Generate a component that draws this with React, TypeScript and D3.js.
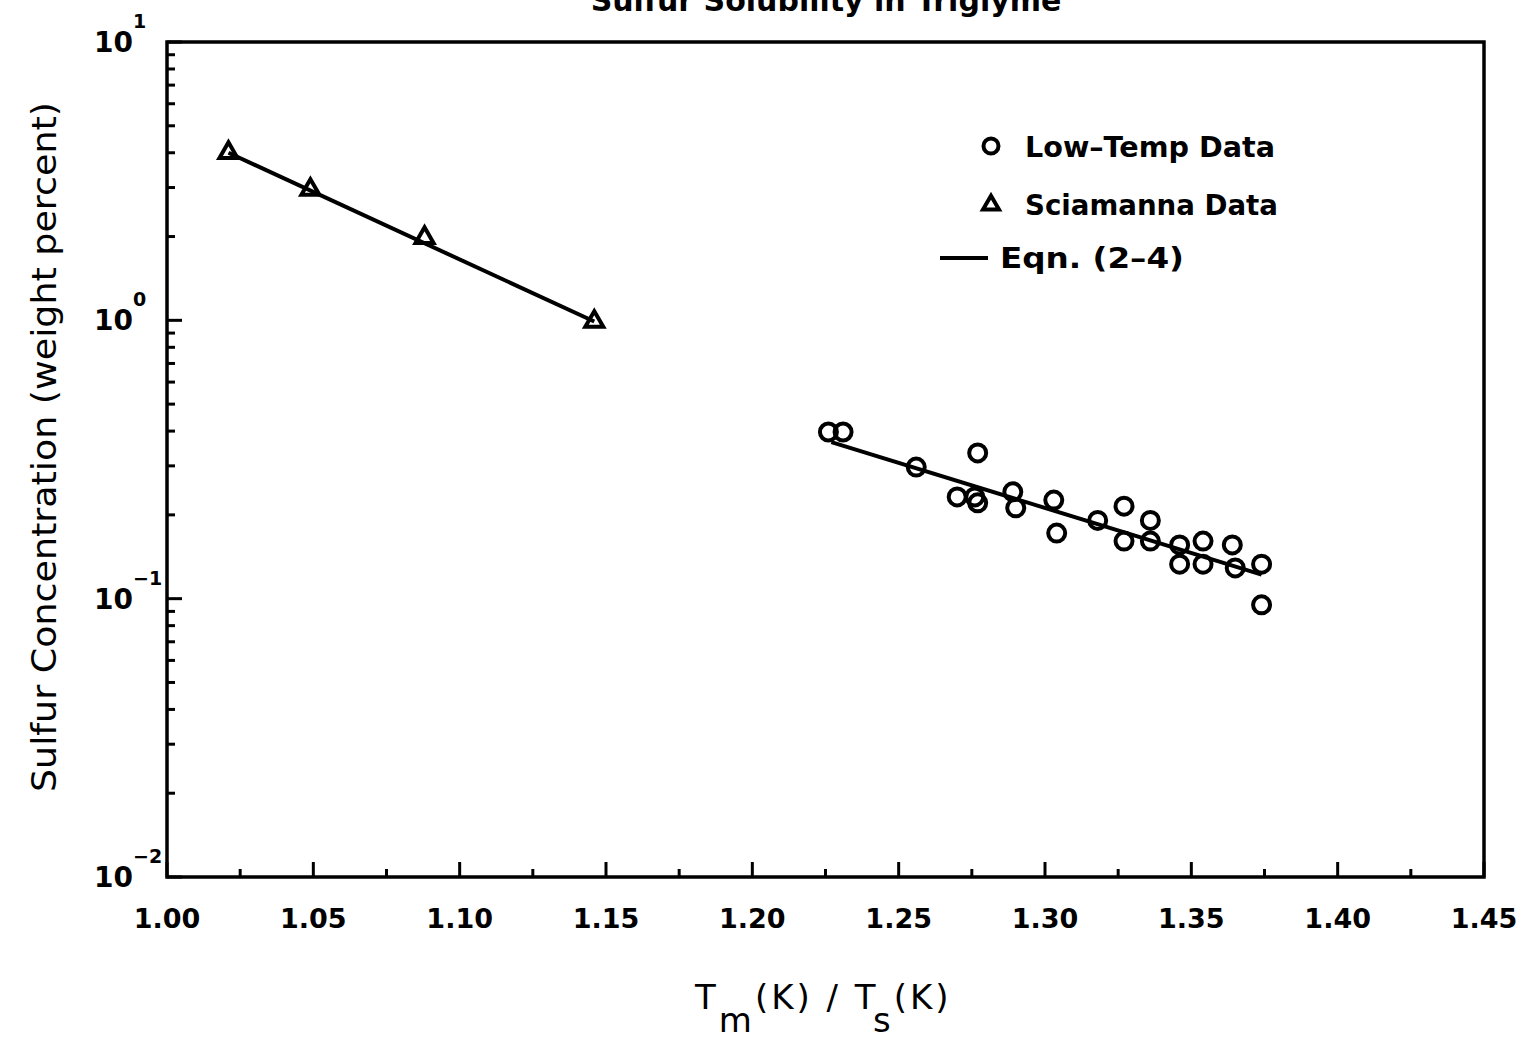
import React from "react";
import * as d3 from "d3";

const titleText = "Sulfur Solubility in Triglyme";
const xTickValues = [1.0, 1.05, 1.1, 1.15, 1.2, 1.25, 1.3, 1.35, 1.4, 1.45];
const yDecades = [-2, -1, 0, 1];

const lowTempX = [1.226, 1.231, 1.256, 1.277, 1.270, 1.276, 1.277, 1.289, 1.290, 1.303, 1.304, 1.318, 1.327, 1.327, 1.336, 1.336, 1.346, 1.346, 1.354, 1.354, 1.364, 1.365, 1.374, 1.374];
const lowTempY = [0.397, 0.397, 0.297, 0.334, 0.232, 0.232, 0.221, 0.242, 0.212, 0.226, 0.172, 0.191, 0.215, 0.161, 0.191, 0.161, 0.156, 0.133, 0.161, 0.133, 0.156, 0.129, 0.133, 0.095];

const sciX = [1.021, 1.049, 1.088, 1.146];
const sciY = [4.0, 2.95, 1.98, 0.99];

const eqnSciX = [1.021, 1.146];
const eqnSciY = [4.0, 0.99];
const eqnLowX = [1.227, 1.374];
const eqnLowY = [0.365, 0.122];

const legendLabels = ["Low\u2013Temp Data", "Sciamanna Data", "Eqn. (2\u20134)"];

const W = 1530;
const H = 1039;
const L = 167, R = 1484, T = 42, B = 877;
const FONT = "'DejaVu Sans', 'Liberation Sans', Arial, sans-serif";

function triPath(cx: number, cy: number, s: number) {
  const h = s * 0.866;
  return `M${cx},${cy - (2 * h) / 3}L${cx + s / 2},${cy + h / 3}L${cx - s / 2},${cy + h / 3}Z`;
}

export default function App() {
  const x = d3.scaleLinear().domain([1.0, 1.45]).range([L, R]);
  const y = d3.scaleLog().domain([0.01, 10]).range([B, T]);
  const line = d3.line<[number, number]>().x((d) => x(d[0])).y((d) => y(d[1]));

  const xMinor = d3.range(0, 18).map((i) => 1.025 + i * 0.05).filter((v) => v < 1.45);
  const yMinor: number[] = [];
  for (const dec of [-2, -1, 0]) for (let k = 2; k <= 9; k++) yMinor.push(k * Math.pow(10, dec));

  const sciLine: [number, number][] = eqnSciX.map((v, i) => [v, eqnSciY[i]]);
  const lowLine: [number, number][] = eqnLowX.map((v, i) => [v, eqnLowY[i]]);

  return (
    <svg width={W} height={H} style={{ position: "absolute", left: 0, top: 0, background: "#fff" }} fontFamily={FONT}>
      <rect x={0} y={0} width={W} height={H} fill="#fff" />
      <text x={826} y={11} textAnchor="middle" fontSize={30} fontWeight="bold">{titleText}</text>

      {/* frame */}
      <rect x={L} y={T} width={R - L} height={B - T} fill="none" stroke="#000" strokeWidth={3.5} />

      {/* x ticks */}
      {xTickValues.map((v) => (
        <g key={"xt" + v}>
          <line x1={x(v)} x2={x(v)} y1={B} y2={B - 15} stroke="#000" strokeWidth={3} />
          <text x={x(v)} y={928} textAnchor="middle" fontSize={27} fontWeight="bold">{v.toFixed(2)}</text>
        </g>
      ))}
      {xMinor.map((v) => (
        <line key={"xm" + v} x1={x(v)} x2={x(v)} y1={B} y2={B - 8} stroke="#000" strokeWidth={3} />
      ))}

      {/* y ticks */}
      {yDecades.map((d) => {
        const v = Math.pow(10, d);
        const yy = y(v);
        return (
          <g key={"yt" + d}>
            <line x1={L} x2={L + 15} y1={yy} y2={yy} stroke="#000" strokeWidth={3} />
            <text x={94} y={yy + 10} fontSize={28} fontWeight="bold">
              10
              <tspan dy={-24} fontSize={19}>{d < 0 ? "\u2212" + Math.abs(d) : String(d)}</tspan>
            </text>
          </g>
        );
      })}
      {yMinor.map((v) => (
        <line key={"ym" + v} x1={L} x2={L + 8} y1={y(v)} y2={y(v)} stroke="#000" strokeWidth={3} />
      ))}

      {/* axis labels */}
      <text x={695} y={1009} fontSize={34} letterSpacing={3}>
        T<tspan dy={23}>m</tspan><tspan dy={-23}>(K) / T</tspan><tspan dy={23}>s</tspan><tspan dy={-23}>(K)</tspan>
      </text>
      <text transform={`translate(56,447) rotate(-90)`} textAnchor="middle" fontSize={33} textLength={690} lengthAdjust="spacingAndGlyphs">
        Sulfur Concentration (weight percent)
      </text>

      {/* fit lines */}
      <path d={line(sciLine) || ""} fill="none" stroke="#000" strokeWidth={4} />
      <path d={line(lowLine) || ""} fill="none" stroke="#000" strokeWidth={4} />

      {/* sciamanna triangles */}
      {sciX.map((v, i) => (
        <path key={"s" + i} d={triPath(x(v), y(sciY[i]), 18)} fill="none" stroke="#000" strokeWidth={4} strokeLinejoin="miter" />
      ))}

      {/* low temp circles */}
      {lowTempX.map((v, i) => (
        <circle key={"c" + i} cx={x(v)} cy={y(lowTempY[i])} r={8.5} fill="none" stroke="#000" strokeWidth={4} />
      ))}

      {/* legend */}
      <circle cx={991} cy={146} r={7.5} fill="none" stroke="#000" strokeWidth={4} />
      <text x={1025} y={157} fontSize={28} fontWeight="bold" textLength={250} lengthAdjust="spacingAndGlyphs">{legendLabels[0]}</text>
      <path d={triPath(991, 205, 16)} fill="none" stroke="#000" strokeWidth={4} />
      <text x={1025} y={215} fontSize={28} fontWeight="bold" textLength={253} lengthAdjust="spacingAndGlyphs">{legendLabels[1]}</text>
      <line x1={940} x2={988} y1={258} y2={258} stroke="#000" strokeWidth={4} />
      <text x={1000} y={268} fontSize={28} fontWeight="bold" textLength={184} lengthAdjust="spacingAndGlyphs">{legendLabels[2]}</text>
    </svg>
  );
}
